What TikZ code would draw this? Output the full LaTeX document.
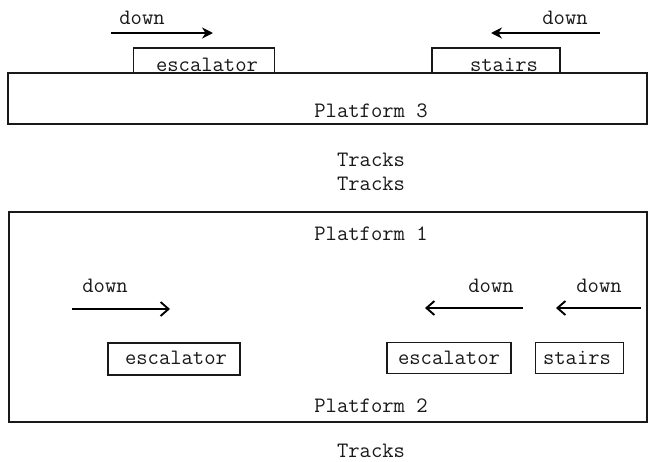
\documentclass[tikz,border=0pt]{standalone}
\usetikzlibrary{arrows.meta}
\tikzset{
  lbl/.style={font=\ttfamily\fontsize{22}{24}\selectfont, inner sep=0pt, anchor=base, text=black!90},
  frame/.style={draw=black!90, line width=1.4pt},
  smallbox/.style={draw=black!90, line width=1.8pt, inner sep=0pt},
  toparrow/.style={line width=1.7pt, -{Stealth[length=11pt,width=11pt]}},
  lowarrow/.style={line width=1.1pt, -{Straight Barb[length=8pt,width=14pt,line width=1.9pt]}}
}
\begin{document}
\begin{tikzpicture}[x=1pt,y=-1pt]
\useasboundingbox (0,0) rectangle (651,461);
% Platform 3 area
\node[frame, minimum width=639pt, minimum height=51pt, inner sep=0pt] (p3) at (327.5,98.5) {};
\node[frame, minimum width=141pt, minimum height=25pt, inner sep=0pt] (esc3) at (204,60.5) {};
\node[frame, minimum width=128pt, minimum height=25pt, inner sep=0pt] (st3) at (496,60.5) {};
\node[lbl] (esc3t) at (207,71) {escalator};
\node[lbl] (st3t) at (504,71) {stairs};
\node[lbl] (p3t) at (371,117) {Platform 3};
\node[lbl] (d1) at (142,24) {down};
\node[lbl] (d2) at (565,24) {down};
\coordinate (a1s) at (111,33);
\coordinate (a1e) at (213,33);
\coordinate (a2s) at (600,33);
\coordinate (a2e) at (491,33);
\draw[toparrow] (a1s) -- (a1e);
\draw[toparrow] (a2s) -- (a2e);
% Tracks
\node[lbl] (tr1) at (371,166) {Tracks};
\node[lbl] (tr2) at (371,190) {Tracks};
% Platform 1/2 area
\node[frame, minimum width=638pt, minimum height=210pt, inner sep=0pt] (p12) at (328,317) {};
\node[lbl] (p1t) at (371,240) {Platform 1};
\node[lbl] (p2t) at (371,412) {Platform 2};
\node[lbl] (d3) at (105,292) {down};
\node[lbl] (d4) at (491,292) {down};
\node[lbl] (d5) at (599,292) {down};
\coordinate (a3s) at (72,309);
\coordinate (a3e) at (170,309);
\coordinate (a4s) at (523,308);
\coordinate (a4e) at (425,308);
\coordinate (a5s) at (641,308);
\coordinate (a5e) at (556,308);
\draw[lowarrow] (a3s) -- (a3e);
\draw[lowarrow] (a4s) -- (a4e);
\draw[lowarrow] (a5s) -- (a5e);
\node[smallbox, minimum width=132pt, minimum height=32pt] (esc1) at (174,359) {};
\node[lbl] (esc1t) at (176,364) {escalator};
\node[smallbox, minimum width=124pt, minimum height=31pt] (esc2) at (449,358) {};
\node[lbl] (esc2t) at (449,364) {escalator};
\node[smallbox, minimum width=88pt, minimum height=31pt] (st2) at (579.5,358) {};
\node[lbl] (st2t) at (577,364) {stairs};
% bottom tracks
\node[lbl] (tr3) at (371,457) {Tracks};
\end{tikzpicture}
\end{document}
